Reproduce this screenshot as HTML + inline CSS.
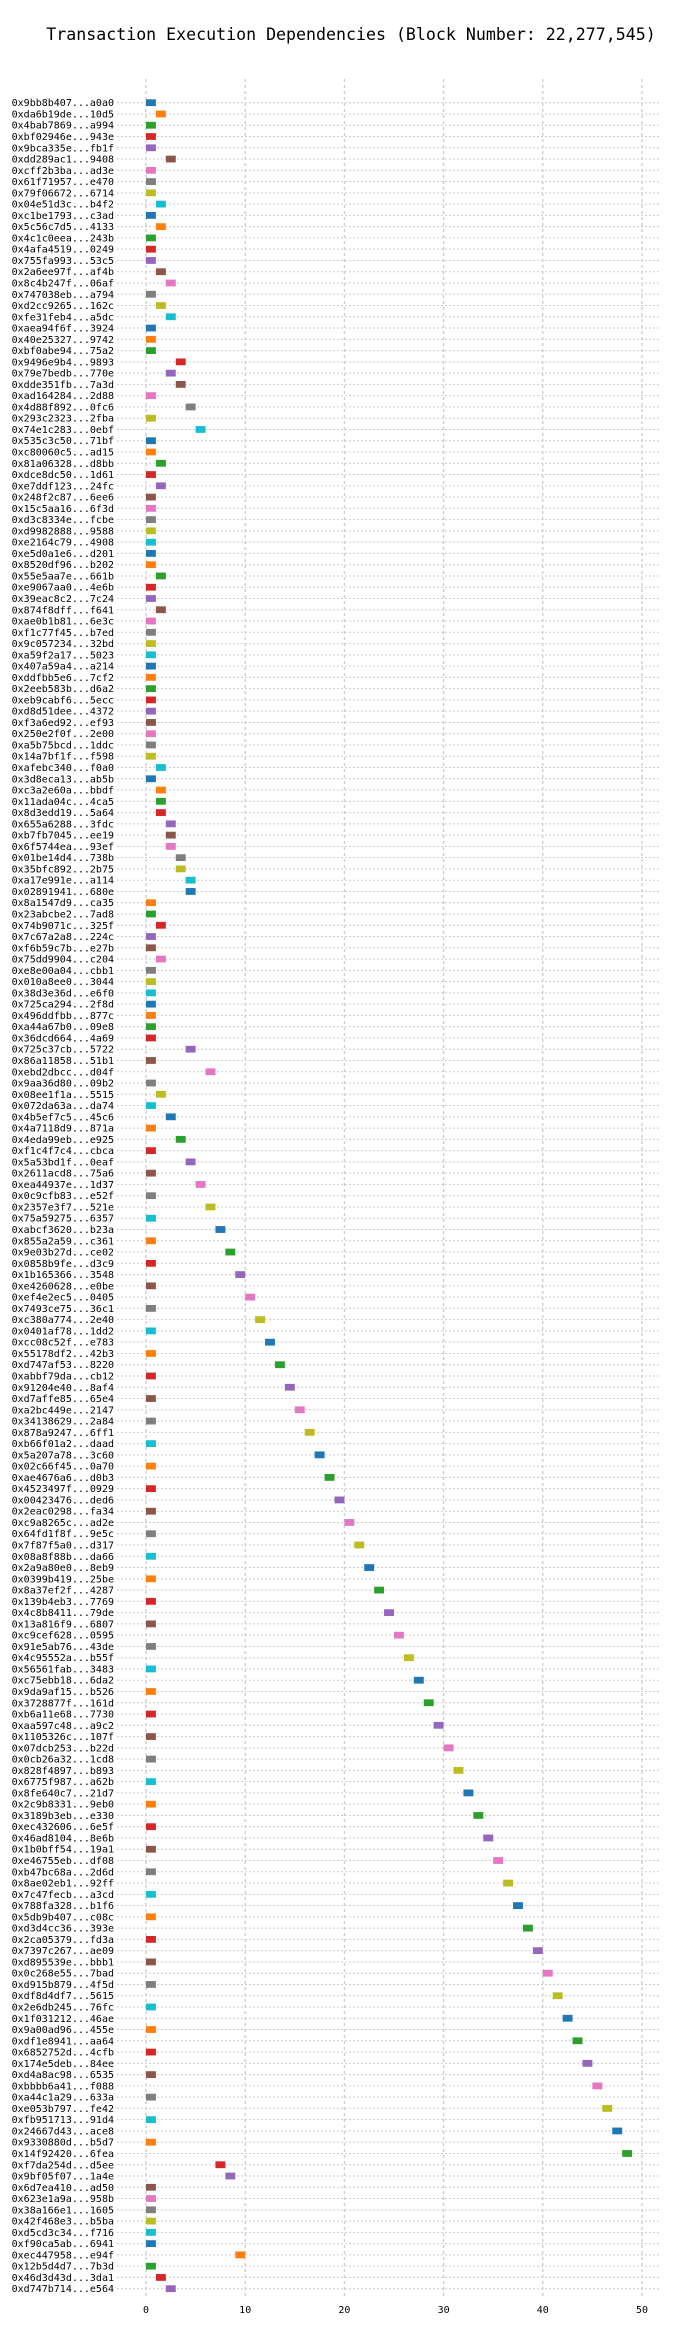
<!DOCTYPE html>
<html><head><meta charset="utf-8"><style>
html,body{margin:0;padding:0;background:#fff;}
svg{display:block;}
text{font-family:"DejaVu Sans Mono","Liberation Mono",monospace;fill:#000;}
</style></head><body>
<svg id="chart" width="700" height="2340" viewBox="0 0 700 2340" xmlns="http://www.w3.org/2000/svg">
<text x="351" y="40" text-anchor="middle" font-size="16.6">Transaction Execution Dependencies (Block Number: 22,277,545)</text>
<g id="grid"></g>
<g id="rows"></g>
<g id="xticks"></g>
</svg>
<script>
const txLabels = ["0x9bb8b407...a0a0","0xda6b19de...10d5","0x4bab7869...a994","0xbf02946e...943e","0x9bca335e...fb1f","0xdd289ac1...9408","0xcff2b3ba...ad3e","0x61f71957...e470","0x79f06672...6714","0x04e51d3c...b4f2","0xc1be1793...c3ad","0x5c56c7d5...4133","0x4c1c0eea...243b","0x4afa4519...0249","0x755fa993...53c5","0x2a6ee97f...af4b","0x8c4b247f...06af","0x747038eb...a794","0xd2cc9265...162c","0xfe31feb4...a5dc","0xaea94f6f...3924","0x40e25327...9742","0xbf0abe94...75a2","0x9496e9b4...9893","0x79e7bedb...770e","0xdde351fb...7a3d","0xad164284...2d88","0x4d88f892...0fc6","0x293c2323...2fba","0x74e1c283...0ebf","0x535c3c50...71bf","0xc80060c5...ad15","0x81a06328...d8bb","0xdce8dc50...1d61","0xe7ddf123...24fc","0x248f2c87...6ee6","0x15c5aa16...6f3d","0xd3c8334e...fcbe","0xd9982888...9588","0xe2164c79...4908","0xe5d0a1e6...d201","0x8520df96...b202","0x55e5aa7e...661b","0xe9067aa0...4e6b","0x39eac8c2...7c24","0x874f8dff...f641","0xae0b1b81...6e3c","0xf1c77f45...b7ed","0x9c057234...32bd","0xa59f2a17...5023","0x407a59a4...a214","0xddfbb5e6...7cf2","0x2eeb583b...d6a2","0xeb9cabf6...5ecc","0xd8d51dee...4372","0xf3a6ed92...ef93","0x250e2f0f...2e00","0xa5b75bcd...1ddc","0x14a7bf1f...f598","0xafebc340...f0a0","0x3d8eca13...ab5b","0xc3a2e60a...bbdf","0x11ada04c...4ca5","0x8d3edd19...5a64","0x655a6288...3fdc","0xb7fb7045...ee19","0x6f5744ea...93ef","0x01be14d4...738b","0x35bfc892...2b75","0xa17e991e...a114","0x02891941...680e","0x8a1547d9...ca35","0x23abcbe2...7ad8","0x74b9071c...325f","0x7c67a2a8...224c","0xf6b59c7b...e27b","0x75dd9904...c204","0xe8e00a04...cbb1","0x010a8ee0...3044","0x38d3e36d...e6f0","0x725ca294...2f8d","0x496ddfbb...877c","0xa44a67b0...09e8","0x36dcd664...4a69","0x725c37cb...5722","0x86a11858...51b1","0xebd2dbcc...d04f","0x9aa36d80...09b2","0x08ee1f1a...5515","0x072da63a...da74","0x4b5ef7c5...45c6","0x4a7118d9...871a","0x4eda99eb...e925","0xf1c4f7c4...cbca","0x5a53bd1f...0eaf","0x2611acd8...75a6","0xea44937e...1d37","0x0c9cfb83...e52f","0x2357e3f7...521e","0x75a59275...6357","0xabcf3620...b23a","0x855a2a59...c361","0x9e03b27d...ce02","0x0858b9fe...d3c9","0x1b165366...3548","0xe4260628...e0be","0xef4e2ec5...0405","0x7493ce75...36c1","0xc380a774...2e40","0x0401af78...1dd2","0xcc08c52f...e783","0x55178df2...42b3","0xd747af53...8220","0xabbf79da...cb12","0x91204e40...8af4","0xd7affe85...65e4","0xa2bc449e...2147","0x34138629...2a84","0x878a9247...6ff1","0xb66f01a2...daad","0x5a207a78...3c60","0x02c66f45...0a70","0xae4676a6...d0b3","0x4523497f...0929","0x00423476...ded6","0x2eac0298...fa34","0xc9a8265c...ad2e","0x64fd1f8f...9e5c","0x7f87f5a0...d317","0x08a8f88b...da66","0x2a9a80e0...8eb9","0x0399b419...25be","0x8a37ef2f...4287","0x139b4eb3...7769","0x4c8b8411...79de","0x13a816f9...6807","0xc9cef628...0595","0x91e5ab76...43de","0x4c95552a...b55f","0x56561fab...3483","0xc75ebb18...6da2","0x9da9af15...b526","0x3728877f...161d","0xb6a11e68...7730","0xaa597c48...a9c2","0x1105326c...107f","0x07dcb253...b22d","0x0cb26a32...1cd8","0x828f4897...b893","0x6775f987...a62b","0x8fe640c7...21d7","0x2c9b8331...9eb0","0x3189b3eb...e330","0xec432606...6e5f","0x46ad8104...8e6b","0x1b0bff54...19a1","0xe46755eb...df08","0xb47bc68a...2d6d","0x8ae02eb1...92ff","0x7c47fecb...a3cd","0x788fa328...b1f6","0x5db9b407...c08c","0xd3d4cc36...393e","0x2ca05379...fd3a","0x7397c267...ae09","0xd895539e...bbb1","0x0c268e55...7bad","0xd915b879...4f5d","0xdf8d4df7...5615","0x2e6db245...76fc","0x1f031212...46ae","0x9a00ad96...455e","0xdf1e8941...aa64","0x6852752d...4cfb","0x174e5deb...84ee","0xd4a8ac98...6535","0xbbbb6a41...f088","0xa44c1a29...633a","0xe053b797...fe42","0xfb951713...91d4","0x24667d43...ace8","0x9330880d...b5d7","0x14f92420...6fea","0xf7da254d...d5ee","0x9bf05f07...1a4e","0x6d7ea410...ad50","0x623e1a9a...958b","0x38a166e1...1605","0x42f468e3...b5ba","0xd5cd3c34...f716","0xf90ca5ab...6941","0xec447958...e94f","0x12b5d4d7...7b3d","0x46d3d43d...3da1","0xd747b714...e564"];
const txStarts = [0,1,0,0,0,2,0,0,0,1,0,1,0,0,0,1,2,0,1,2,0,0,0,3,2,3,0,4,0,5,0,0,1,0,1,0,0,0,0,0,0,0,1,0,0,1,0,0,0,0,0,0,0,0,0,0,0,0,0,1,0,1,1,1,2,2,2,3,3,4,4,0,0,1,0,0,1,0,0,0,0,0,0,0,4,0,6,0,1,0,2,0,3,0,4,0,5,0,6,0,7,0,8,0,9,0,10,0,11,0,12,0,13,0,14,0,15,0,16,0,17,0,18,0,19,0,20,0,21,0,22,0,23,0,24,0,25,0,26,0,27,0,28,0,29,0,30,0,31,0,32,0,33,0,34,0,35,0,36,0,37,0,38,0,39,0,40,0,41,0,42,0,43,0,44,0,45,0,46,0,47,0,48,7,8,0,0,0,0,0,0,9,0,1,2];
const txDurations = new Array(txStarts.length).fill(1);
const xTicks = [0,10,20,30,40,50];

const palette = ["#1f77b4","#ff7f0e","#2ca02c","#d62728","#9467bd","#8c564b","#e377c2","#7f7f7f","#bcbd22","#17becf"];
const NS = "http://www.w3.org/2000/svg";
const X0 = 146, XS = 9.92, Y0 = 102.7;
const YS = (2288.7 - 102.7) / (txLabels.length - 1);
const xScale = v => X0 + v * XS;
const yScale = i => Y0 + i * YS;
const plotTop = 79, plotBottom = 2297, plotLeft = 117, plotRight = 661;

function mk(tag, attrs, parent) {
  const e = document.createElementNS(NS, tag);
  for (const k in attrs) e.setAttribute(k, attrs[k]);
  parent.appendChild(e);
  return e;
}
const grid = document.getElementById("grid");
const rows = document.getElementById("rows");
const xt = document.getElementById("xticks");

xTicks.forEach(t => {
  const l = mk("line", {x1: xScale(t), x2: xScale(t), y1: plotTop, y2: plotBottom, stroke: "#cccccc", "stroke-width": 1.3, "stroke-dasharray": "3,3"}, grid);
  
  
  const tx = mk("text", {x: xScale(t), y: 2313, "font-size": 10, "text-anchor": "middle"}, xt);
  tx.textContent = t;
  
  
});

txLabels.forEach((lab, i) => {
  const y = yScale(i);
  const g = mk("g", {}, rows);
  
  
  const hl = mk("line", {x1: plotLeft, x2: plotRight, y1: y, y2: y, stroke: "#cccccc", "stroke-width": 1, "stroke-dasharray": "2,2"}, g);
  
  
  const t = mk("text", {x: 114, y: y + 3.5, "font-size": 10, "text-anchor": "end"}, g);
  t.textContent = lab;
  
  
  const b = mk("rect", {x: xScale(txStarts[i]), y: y - 3.4, width: txDurations[i] * XS, height: 6.8, fill: palette[i % 10]}, g);
  
  
});
</script>
</body></html>
